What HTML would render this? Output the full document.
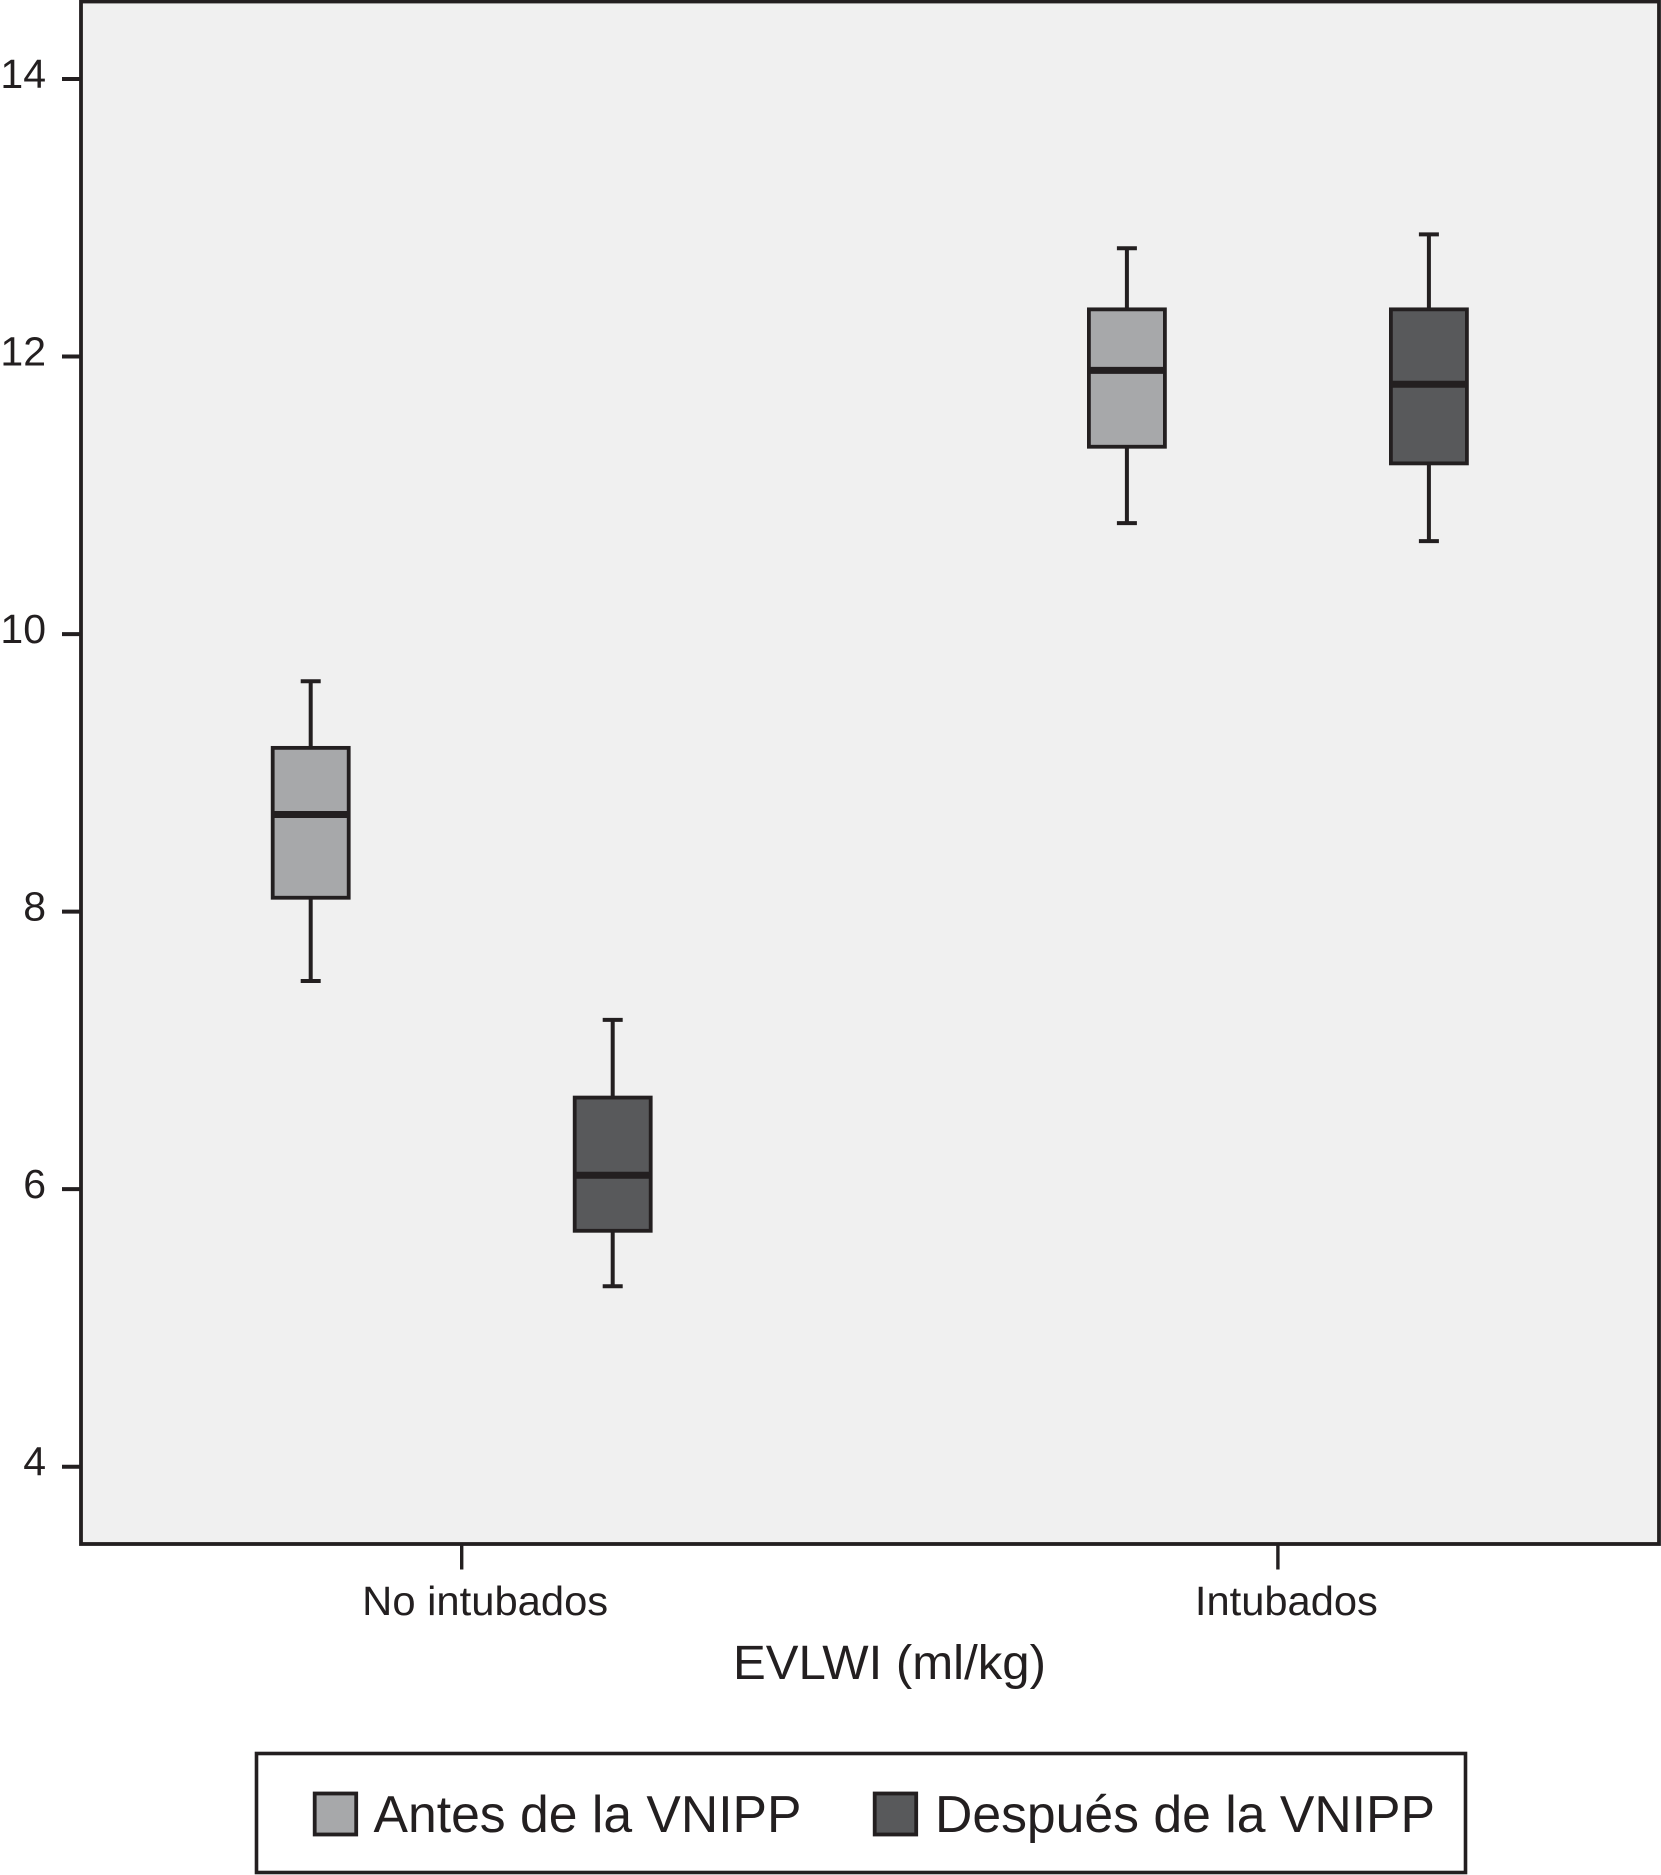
<!DOCTYPE html>
<html lang="es">
<head>
<meta charset="utf-8">
<title>EVLWI (ml/kg)</title>
<style>
  html, body { margin: 0; padding: 0; background: #ffffff; }
  svg { display: block; }
  text { font-family: "Liberation Sans", Arial, sans-serif; fill: #231f20; }
</style>
</head>
<body>
<svg id="chart" xmlns="http://www.w3.org/2000/svg" width="1661" height="1875" viewBox="0 0 1661 1875">
  <rect x="0" y="0" width="1661" height="1875" fill="#ffffff"/>
  <rect id="plot-area" x="81" y="1.5" width="1578" height="1542.5" fill="#f0f0f0" stroke="#231f20" stroke-width="3.8"/>
  <g id="y-axis"></g>
  <g id="x-axis"></g>
  <g id="marks"></g>
  <text x="733" y="1679" font-size="48" textLength="313" lengthAdjust="spacingAndGlyphs">EVLWI (ml/kg)</text>
  <g>
    <rect x="256.5" y="1753.5" width="1209" height="119" fill="#ffffff" stroke="#231f20" stroke-width="3.6"/>
    <g>
      <rect x="314.7" y="1793.5" width="41.5" height="41" fill="#a7a8aa" stroke="#231f20" stroke-width="3.8"/>
      <text x="373.5" y="1832" font-size="51.5" textLength="428" lengthAdjust="spacingAndGlyphs">Antes de la VNIPP</text>
    </g>
    <g>
      <rect x="874.7" y="1793.5" width="41.5" height="41" fill="#58595b" stroke="#231f20" stroke-width="3.8"/>
      <text x="935" y="1832" font-size="51.5" textLength="500" lengthAdjust="spacingAndGlyphs">Después de la VNIPP</text>
    </g>
  </g>
</svg>
<script>
// Chart data
const categories = ['No intubados', 'Intubados'];
const seriesNames = ['antes', 'despues'];
const yTicks = [4, 6, 8, 10, 12, 14];
const antesLow = [7.50, 10.80];
const antesQ1 = [8.10, 11.35];
const antesMedian = [8.70, 11.90];
const antesQ3 = [9.18, 12.34];
const antesHigh = [9.66, 12.78];
const despuesLow = [5.30, 10.67];
const despuesQ1 = [5.70, 11.23];
const despuesMedian = [6.10, 11.80];
const despuesQ3 = [6.66, 12.34];
const despuesHigh = [7.22, 12.88];

const INK = '#231f20';
const SVG_NS = 'http://www.w3.org/2000/svg';

// Axis functions
function yScale(v) { return 79 + (14 - v) * 138.77; }
function xCategory(i) { return 461.7 + i * 816.2; }
function xBox(i, s) { return xCategory(i) + (s === 0 ? -151 : 151); }

function make(parent, tag, attrs) {
  const el = document.createElementNS(SVG_NS, tag);
  for (const k in attrs) el.setAttribute(k, attrs[k]);
  parent.appendChild(el);
  return el;
}

const yAxis = document.getElementById('y-axis');
const xAxis = document.getElementById('x-axis');
const marks = document.getElementById('marks');

yTicks.forEach(function (t) {
  const y = yScale(t);
  const tick = make(yAxis, 'line', { x1: 62, x2: 80, y1: y, y2: y, stroke: INK, 'stroke-width': 4 });
  
  
  const label = make(yAxis, 'text', { x: 46, y: y + 9, 'font-size': 41, 'text-anchor': 'end' });
  label.textContent = String(t);
  
  
});

const labelLeftOffset = [-99.5, -83];
const labelWidth = [246, 183];
categories.forEach(function (c, i) {
  const x = xCategory(i);
  const tick = make(xAxis, 'line', { x1: x, x2: x, y1: 1545, y2: 1569.5, stroke: INK, 'stroke-width': 3.4 });
  
  
  const label = make(xAxis, 'text', { x: x + labelLeftOffset[i], y: 1615, 'font-size': 41, textLength: labelWidth[i], lengthAdjust: 'spacingAndGlyphs' });
  label.textContent = c;
  
  
});

function drawBox(i, s, low, q1, med, q3, high, fill) {
  const cx = xBox(i, s);
  const g = make(marks, 'g', {});
  
  

  const whisker = make(g, 'line', { x1: cx, x2: cx, y1: yScale(high), y2: yScale(low), stroke: INK, 'stroke-width': 4 });
  
  

  const capHigh = make(g, 'line', { x1: cx - 10, x2: cx + 10, y1: yScale(high), y2: yScale(high), stroke: INK, 'stroke-width': 4 });
  
  

  const capLow = make(g, 'line', { x1: cx - 10, x2: cx + 10, y1: yScale(low), y2: yScale(low), stroke: INK, 'stroke-width': 4 });
  
  

  const box = make(g, 'rect', { x: cx - 38, y: yScale(q3), width: 76, height: yScale(q1) - yScale(q3), fill: fill, stroke: INK, 'stroke-width': 3.8 });
  
  

  const median = make(g, 'line', { x1: cx - 38, x2: cx + 38, y1: yScale(med), y2: yScale(med), stroke: INK, 'stroke-width': 7 });
  
  
}

categories.forEach(function (c, i) {
  drawBox(i, 0, antesLow[i], antesQ1[i], antesMedian[i], antesQ3[i], antesHigh[i], '#a7a8aa');
  drawBox(i, 1, despuesLow[i], despuesQ1[i], despuesMedian[i], despuesQ3[i], despuesHigh[i], '#58595b');
});
</script>
</body>
</html>
